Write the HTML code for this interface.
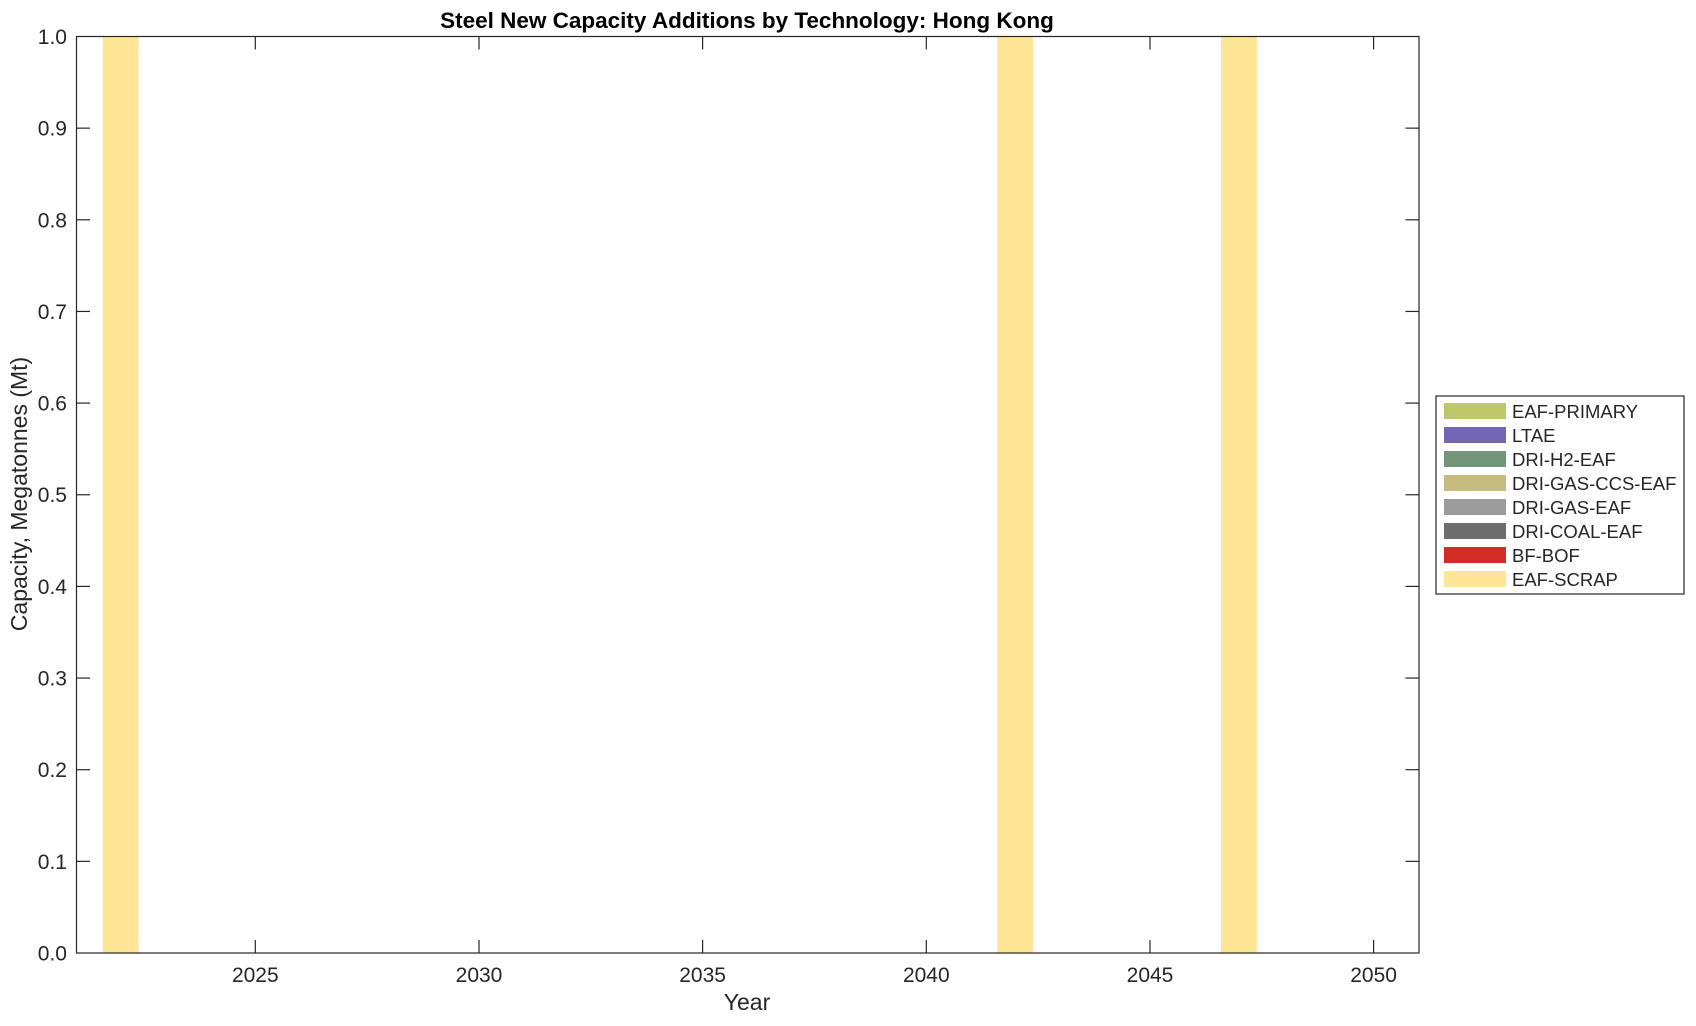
<!DOCTYPE html>
<html><head><meta charset="utf-8"><style>
html,body{margin:0;padding:0;background:#fff;}
svg text{font-family:"Liberation Sans",Arial,sans-serif;fill:#262626;}
</style></head><body>
<svg width="1696" height="1021" viewBox="0 0 1696 1021" xmlns="http://www.w3.org/2000/svg">
<rect width="1696" height="1021" fill="#fff"/>
<rect x="102.7" y="36.5" width="35.8" height="916.5" fill="#FFE596"/>
<rect x="997.3" y="36.5" width="35.8" height="916.5" fill="#FFE596"/>
<rect x="1221" y="36.5" width="35.8" height="916.5" fill="#FFE596"/>
<rect x="76.5" y="36.5" width="1342.5" height="916.5" fill="none" stroke="#262626" stroke-width="1.2"/>
<g stroke="#262626" stroke-width="1.2">
<line x1="255.3" y1="953" x2="255.3" y2="940"/><line x1="255.3" y1="36.5" x2="255.3" y2="49.5"/>
<line x1="479" y1="953" x2="479" y2="940"/><line x1="479" y1="36.5" x2="479" y2="49.5"/>
<line x1="702.6" y1="953" x2="702.6" y2="940"/><line x1="702.6" y1="36.5" x2="702.6" y2="49.5"/>
<line x1="926.3" y1="953" x2="926.3" y2="940"/><line x1="926.3" y1="36.5" x2="926.3" y2="49.5"/>
<line x1="1150" y1="953" x2="1150" y2="940"/><line x1="1150" y1="36.5" x2="1150" y2="49.5"/>
<line x1="1373.6" y1="953" x2="1373.6" y2="940"/><line x1="1373.6" y1="36.5" x2="1373.6" y2="49.5"/>
<line x1="76.5" y1="861.35" x2="90" y2="861.35"/><line x1="1419" y1="861.35" x2="1405.5" y2="861.35"/>
<line x1="76.5" y1="769.7" x2="90" y2="769.7"/><line x1="1419" y1="769.7" x2="1405.5" y2="769.7"/>
<line x1="76.5" y1="678.05" x2="90" y2="678.05"/><line x1="1419" y1="678.05" x2="1405.5" y2="678.05"/>
<line x1="76.5" y1="586.4" x2="90" y2="586.4"/><line x1="1419" y1="586.4" x2="1405.5" y2="586.4"/>
<line x1="76.5" y1="494.75" x2="90" y2="494.75"/><line x1="1419" y1="494.75" x2="1405.5" y2="494.75"/>
<line x1="76.5" y1="403.1" x2="90" y2="403.1"/><line x1="1419" y1="403.1" x2="1405.5" y2="403.1"/>
<line x1="76.5" y1="311.45" x2="90" y2="311.45"/><line x1="1419" y1="311.45" x2="1405.5" y2="311.45"/>
<line x1="76.5" y1="219.8" x2="90" y2="219.8"/><line x1="1419" y1="219.8" x2="1405.5" y2="219.8"/>
<line x1="76.5" y1="128.15" x2="90" y2="128.15"/><line x1="1419" y1="128.15" x2="1405.5" y2="128.15"/>
</g>
<g font-size="21" text-anchor="end">
<text x="67" y="960.5">0.0</text>
<text x="67" y="868.8">0.1</text>
<text x="67" y="777.2">0.2</text>
<text x="67" y="685.5">0.3</text>
<text x="67" y="593.9">0.4</text>
<text x="67" y="502.2">0.5</text>
<text x="67" y="410.6">0.6</text>
<text x="67" y="318.9">0.7</text>
<text x="67" y="227.3">0.8</text>
<text x="67" y="135.6">0.9</text>
<text x="67" y="44">1.0</text>
</g>
<g font-size="21" text-anchor="middle">
<text x="255.3" y="982">2025</text>
<text x="479" y="982">2030</text>
<text x="702.6" y="982">2035</text>
<text x="926.3" y="982">2040</text>
<text x="1150" y="982">2045</text>
<text x="1373.6" y="982">2050</text>
<text x="747" y="1010" font-size="23">Year</text>
<text x="747" y="28" font-size="22.5" font-weight="bold" style="fill:#000">Steel New Capacity Additions by Technology: Hong Kong</text>
</g>
<text font-size="23" text-anchor="middle" transform="translate(27,494) rotate(-90)">Capacity, Megatonnes (Mt)</text>
<rect x="1436" y="396" width="248" height="198" fill="#fff" stroke="#262626" stroke-width="1.2"/>
<g font-size="18.5">
<rect x="1444" y="403" width="62" height="16" fill="#BDC86B"/><text x="1512" y="418">EAF-PRIMARY</text>
<rect x="1444" y="427" width="62" height="16" fill="#7267B5"/><text x="1512" y="442">LTAE</text>
<rect x="1444" y="451" width="62" height="16" fill="#73967A"/><text x="1512" y="466">DRI-H2-EAF</text>
<rect x="1444" y="475" width="62" height="16" fill="#C6BC80"/><text x="1512" y="490">DRI-GAS-CCS-EAF</text>
<rect x="1444" y="499" width="62" height="16" fill="#9C9C9C"/><text x="1512" y="514">DRI-GAS-EAF</text>
<rect x="1444" y="523" width="62" height="16" fill="#6E6E6E"/><text x="1512" y="538">DRI-COAL-EAF</text>
<rect x="1444" y="547" width="62" height="16" fill="#D22D27"/><text x="1512" y="562">BF-BOF</text>
<rect x="1444" y="571" width="62" height="16" fill="#FFE596"/><text x="1512" y="586">EAF-SCRAP</text>
</g>
</svg>
</body></html>
